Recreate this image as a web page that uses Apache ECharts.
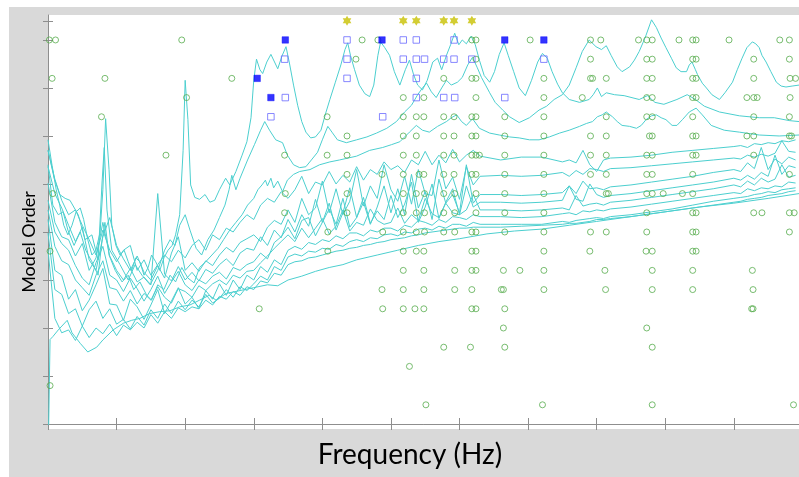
<!DOCTYPE html>
<html><head><meta charset="utf-8">
<script src="https://cdn.jsdelivr.net/npm/echarts@6/dist/echarts.min.js"></script>
<style>
html,body{margin:0;padding:0;background:#fff;overflow:hidden;}
#frame{position:absolute;left:9px;top:7px;width:790px;height:470px;background:#d9d9d9;}
#chart{position:absolute;left:0;top:0;width:799px;height:477px;}
</style></head><body>
<div id="frame"></div><div id="chart"></div>
<script>
// ---------- data ----------
const xTickStep = 10;
const yTicks = [0,5,10,15,20,25,30,35,40,42];

const circleOrders = [40,38,36,34,32,30,28,26,24,22,20,18,16,14,12,10,8,6,4,2];
const circleHz = [
 [0.2,1.1,19.5,45.8,48.1,61.8,62.4,70.3,79.1,80.6,86.1,87.3,88.1,92.0,94.0,94.5,99.3,106.7,108.1],
 [44.9,62.4,79.1,87.3,88.1,94.0,94.5,102.9,108.1],
 [0.6,8.3,26.8,57.7,61.8,62.4,72.3,79.1,79.4,81.4,87.3,88.1,94.0,94.5,102.9,108.2,109.0],
 [20.2,51.8,54.8,62.4,72.3,77.9,87.3,88.1,94.0,94.5,101.9,102.9,103.4,108.2],
 [7.8,40.7,51.8,53.7,54.8,57.7,59.2,61.8,62.4,66.6,72.3,81.4,87.3,88.1,94.0,102.9,108.1],
 [43.6,51.8,53.7,57.7,59.2,61.8,62.4,66.6,72.3,79.1,81.4,87.7,88.1,94.0,94.5,101.9,102.9,108.1,108.4],
 [17.2,34.5,40.7,43.6,51.8,53.7,57.7,59.2,61.8,62.4,62.9,66.6,72.3,79.1,81.4,87.3,88.1,94.0,94.5,102.9],
 [43.6,48.7,51.8,54.1,54.8,57.7,59.2,61.8,62.4,66.6,72.3,79.1,81.4,87.3,88.1,94.0,108.1],
 [0.7,34.6,43.6,51.8,53.7,54.9,57.7,59.3,62.4,66.6,72.3,81.4,81.7,87.3,88.1,89.7,92.5,94.0],
 [34.5,43.6,51.8,53.7,54.9,57.7,59.3,62.4,66.6,72.3,87.3,94.0,94.5,102.9,104.1,108.1,108.8],
 [40.8,48.8,51.8,53.7,54.9,57.7,59.3,61.8,62.4,66.6,72.3,79.1,81.4,87.3,94.0,94.5,108.1],
 [0.3,40.8,51.8,53.7,54.8,61.8,62.4,72.3,79.0,87.2,88.1,94.0,94.5],
 [51.8,54.8,59.3,61.8,62.4,66.4,68.8,72.3,81.2,88.1,94.0,102.7],
 [48.7,51.8,54.8,59.3,61.8,66.1,66.4,72.3,81.3,88.1,94.0,102.8],
 [30.8,48.8,51.8,53.5,54.8,61.8,62.4,66.6,102.6,102.8],
 [66.4,87.3],
 [57.7,61.6,66.6,88.1],
 [52.7],
 [0.3],
 [55.1,72.1,88.1,108.7]
];

const sqOrders = [40,38,36,34,32];
const sqHz = [
 [43.6,51.8,53.7,59.2],
 [34.5,43.6,51.8,53.7,54.9,57.7,59.2,61.8,72.3],
 [43.6,53.7],
 [34.6,53.7,57.7,59.3,66.6],
 [32.5,48.8]
];
const fullOrders = [40,36,34];
const fullHz = [[34.6,48.7,66.6,72.3],[30.5],[32.5]];
const starOrder = 42;
const starHz = [43.6,51.8,53.7,57.7,59.2,61.8];

const psdA = [[0,29.6],[0.6,26.9],[1.2,24.4],[1.7,22.8],[2.3,20.7],[2.9,19.7],[3.5,20.7],[4.1,22.1],[4.7,22.5],[5.2,21.3],[5.8,19.2],[6.4,17.6],[7.0,18.1],[7.6,20.0],[8.0,24.4],[8.4,31.8],[8.9,26.5],[9.3,20.7],[9.9,18.6],[10.5,17.6],[11.1,18.1],[11.7,16.9],[12.2,16.0],[12.8,17.3],[13.4,16.9],[14.0,15.5],[14.6,16.3],[15.1,17.6],[15.7,16.9],[16.3,16.0],[16.9,17.3],[17.5,18.1],[18.1,18.6],[18.6,19.7],[19.2,21.8],[19.7,28.5],[20.0,35.8],[20.4,31.7],[20.8,24.9],[21.4,23.6],[22.1,23.4],[22.9,23.9],[23.6,23.1],[24.3,23.3],[25.0,24.4],[25.9,25.6],[26.5,24.9],[27.4,26.3],[28.3,28.0],[29.0,29.4],[29.6,31.9],[30.0,35.8],[30.4,38.0],[30.9,36.9],[31.3,36.5],[31.9,37.7],[32.5,38.5],[33.1,37.6],[33.5,37.0],[34.1,38.3],[34.7,39.3],[35.2,37.6],[35.8,35.3],[36.4,33.2],[37.0,31.5],[37.6,30.4],[38.3,29.8],[39.0,29.9],[39.8,30.6],[40.5,32.4],[41.1,33.8],[41.9,35.6],[42.7,37.4],[43.3,39.0],[43.7,39.7],[44.1,38.4],[44.7,36.9],[45.4,35.3],[46.2,34.4],[46.9,34.1],[47.5,35.3],[48.1,38.4],[48.5,39.8],[49.1,39.2],[49.8,38.4],[50.5,36.7],[51.3,35.3],[52.1,36.9],[52.7,37.9],[53.3,36.4],[53.9,35.3],[54.6,34.8],[55.3,35.8],[56.1,37.7],[56.8,38.1],[57.4,36.9],[58.1,38.4],[58.7,39.5],[59.3,40.7],[59.9,39.5],[60.4,40.0],[61.0,39.6],[61.7,40.4],[62.3,39.5],[62.9,37.9],[63.6,36.3],[64.4,35.6],[65.1,36.7],[65.8,38.5],[66.5,39.7],[67.1,38.4],[67.9,36.7],[68.7,35.0],[69.6,34.2],[70.5,35.8],[71.4,37.7],[72.1,38.6],[72.8,38.1],[73.5,36.7],[74.3,35.4],[75.0,34.5],[76.0,33.8],[77.5,33.5],[78.9,33.8],[79.5,34.3],[80.1,35.0],[80.7,34.1],[81.4,34.5],[82.6,34.3],[84.0,34.2],[86.2,33.8],[87.4,34.2],[88.5,33.5],[89.8,33.3],[91.7,33.8],[93.2,34.3],[94.4,33.8],[95.7,33.1],[97.9,32.5],[100.8,32.1],[103.7,31.9],[105.9,31.9],[108.1,31.6],[109.5,31.5]];

const psdB = [[0,28.5],[0.9,25.6],[1.7,23.9],[2.5,23.5],[3.2,23.3],[4.4,21.8],[5.4,19.2],[6.4,19.7],[7.3,17.1],[7.9,25.4],[8.2,28.8],[8.6,22.3],[9.3,18.1],[10.5,16.6],[11.7,15.0],[12.7,16.6],[13.7,15.5],[14.9,14.5],[16.0,16.0],[17.0,18.1],[17.8,19.2],[18.5,18.6],[19.2,20.7],[20.0,21.8],[20.7,20.2],[21.6,18.3],[22.4,17.6],[23.3,19.2],[24.2,20.2],[25.0,21.5],[25.8,22.8],[26.4,24.4],[26.8,25.9],[27.4,24.4],[28.0,25.6],[29.1,27.5],[30.1,29.1],[31.0,30.6],[31.6,31.5],[32.3,30.6],[33.2,29.6],[34.2,29.3],[34.9,28.0],[35.8,27.0],[36.7,26.7],[37.6,26.8],[38.4,27.5],[39.3,28.3],[40.0,29.6],[40.8,31.0],[41.4,30.4],[42.2,29.6],[43.5,29.3],[45.0,29.6],[46.5,29.9],[47.9,30.3],[49.4,30.8],[50.8,31.5],[52.0,32.5],[53.0,33.2],[53.9,34.3],[54.6,35.0],[55.2,35.5],[55.9,34.6],[56.6,34.0],[57.4,35.0],[58.1,35.8],[58.8,35.3],[59.7,35.6],[60.4,36.1],[61.2,37.4],[61.9,38.2],[62.6,37.1],[63.2,36.1],[63.8,35.3],[64.4,34.5],[65.2,33.5],[66.3,32.7],[67.3,32.0],[68.7,31.4],[70.2,31.9],[71.6,32.7],[72.7,33.1],[73.8,33.8],[75.0,34.3],[76.0,35.3],[77.0,37.1],[77.9,38.8],[78.9,40.0],[79.9,39.3],[80.7,39.0],[81.4,39.4],[82.1,38.4],[83.0,37.2],[83.7,36.7],[84.8,37.2],[85.5,37.9],[86.2,38.8],[86.8,39.8],[87.2,40.5],[88.0,42.1],[88.7,41.3],[89.4,40.2],[90.1,39.2],[90.9,38.1],[91.6,37.1],[92.3,36.7],[93.1,36.7],[93.5,37.4],[93.9,37.7],[94.4,36.9],[94.7,36.4],[95.4,35.5],[96.0,35.0],[96.8,34.3],[97.9,33.8],[98.7,34.5],[99.8,35.6],[100.5,36.9],[101.2,38.1],[101.9,39.2],[102.7,39.8],[103.2,39.6],[103.7,39.2],[104.1,38.4],[104.7,37.7],[105.4,36.7],[106.2,35.6],[106.9,35.2],[107.6,35.1],[108.5,35.2],[109.5,35.3]];

const psdC = [[0,27.0],[0.7,22.8],[1.5,21.8],[2.2,22.1],[2.9,20.2],[3.8,18.6],[4.7,20.0],[5.5,18.1],[6.4,16.9],[7.3,15.5],[7.9,19.2],[8.3,21.0],[8.9,17.6],[9.8,16.0],[10.8,14.8],[11.7,15.5],[12.5,14.0],[13.4,14.8],[14.4,13.4],[15.1,12.9],[16.0,14.5],[16.9,14.0],[17.8,15.5],[18.6,14.8],[19.5,16.3],[20.4,15.2],[21.3,14.7],[22.1,16.3],[23.0,16.9],[23.9,17.6],[24.8,18.3],[25.6,19.2],[26.5,20.2],[27.4,21.0],[28.3,21.8],[29.1,22.8],[30.0,23.5],[30.6,24.4],[31.2,24.9],[31.7,25.4],[32.0,24.8],[32.5,25.6],[32.9,24.6],[33.5,25.3],[34.2,24.2],[34.9,25.4],[35.8,26.0],[36.7,26.3],[38.2,26.5],[39.6,27.0],[41.1,27.3],[42.5,27.5],[45.0,27.9],[46.9,28.5],[48.8,28.8],[50.1,29.1],[51.3,29.4],[52.7,30.4],[53.7,31.1],[54.6,30.6],[55.6,30.4],[56.8,31.0],[58.1,31.5],[58.8,31.9],[59.6,32.2],[60.3,31.5],[61.0,31.1],[61.9,31.8],[62.9,30.8],[64.4,30.3],[65.8,30.1],[67.3,29.9],[68.7,29.8],[70.2,29.6],[71.6,29.6],[73.1,29.9],[74.6,30.3],[76.0,30.6],[77.5,31.0],[78.5,31.3],[79.4,31.5],[80.1,32.0],[80.8,32.2],[81.4,32.5],[82.3,32.0],[83.0,31.5],[83.7,31.1],[84.8,31.0],[85.8,30.8],[86.5,31.1],[87.2,31.7],[88.0,32.1],[88.7,32.2],[89.4,31.9],[90.1,31.7],[91.0,31.1],[91.7,31.1],[92.5,31.7],[93.5,32.5],[94.5,32.9],[95.4,32.2],[96.7,31.1],[98.6,30.6],[100.8,30.4],[103.7,30.1],[106.6,30.0],[109.5,30.1]];

const binHz = [0,1,2,3,4,5,6,7,8,9,10,11,12,13,14,15,16,17,18,19,20,21,22,23,24,25,26,27,28,29,30,31,32,33,34,35,36,37,38,39,40,41,42,43,44,45,46,47,48,49,50,51,52,53,54,55,56,57,58,59,60,61,62,63,66,69,72,75,76,77,78,79,80,81,82,85,88,91,94,97,100,101,102,103,104,105,106,107,108,109];
const psdD = [28.5,25.5,23.3,21.8,22.3,20.7,19.2,17.6,20.2,18.1,16.9,18.1,18.6,16.0,17.1,15.5,16.6,17.6,16.9,18.1,17.3,18.6,19.2,18.1,19.7,19.2,20.4,20.0,21.0,21.8,21.3,22.8,23.5,23.1,24.2,23.5,
 24.4,25.8,24.0,25.2,24.9,26.3,25.0,25.9,25.2,26.8,25.4,26.5,26.0,27.3,26.5,26.9,26.2,27.5,27.0,28.4,27.0,28.0,27.2,28.6,27.3,28.0,28.5,27.9,
 27.5,27.8,27.8,27.3,27.5,27.2,28.5,27.0,26.3,27.5,27.7,27.8,28.0,28.3,28.5,28.7,28.9,29.0,28.8,29.2,29.1,29.3,29.2,29.5,29.4,29.6];
const psdE = [26.8,24.0,22.5,20.7,19.0,20.5,17.1,16.0,19.5,21.5,18.6,17.2,16.0,17.5,15.8,15.0,16.5,15.2,17.8,19.5,16.0,16.8,15.9,17.0,16.5,17.6,18.4,17.9,18.9,19.3,19.7,19.0,20.5,21.2,20.8,22.3,
 21.0,23.5,21.8,22.5,25.3,22.0,24.5,21.8,23.2,26.5,22.7,24.8,23.5,27.0,24.4,23.2,25.8,22.9,26.5,24.0,23.8,27.5,24.5,25.7,23.4,26.8,24.9,25.8,
 25.9,25.8,25.9,26.2,25.8,26.4,26.0,26.6,26.5,26.3,26.6,26.7,26.9,27.1,27.3,27.5,27.7,27.6,28.0,27.8,28.1,27.9,28.2,29.5,28.4,28.3];
const psdF = [25.1,21.0,19.5,19.2,17.5,18.8,16.0,17.3,21.0,17.5,16.0,15.0,16.2,14.8,15.3,14.5,24.0,15.6,14.9,16.4,15.0,15.8,14.9,16.1,15.7,16.6,17.2,16.5,17.8,18.3,18.1,19.5,18.6,20.2,19.4,21.3,
 20.0,21.8,20.6,23.4,21.0,23.0,20.2,22.0,24.6,21.5,23.1,20.8,22.6,24.8,22.0,24.5,21.8,26.0,22.5,24.2,21.3,25.5,23.0,23.9,22.0,27.0,23.0,23.9,
 23.9,23.8,23.9,24.1,24.8,24.0,25.3,24.5,24.6,24.4,24.7,24.9,25.2,25.5,25.8,26.2,26.5,26.3,27.2,26.6,28.8,26.5,27.6,27.1,27.8,27.5];
const psdG = [23.3,20.0,18.8,18.1,16.5,15.2,14.5,16.8,18.5,15.5,15.0,13.8,15.2,14.1,12.8,14.0,15.4,13.6,14.8,15.9,14.5,13.9,15.0,14.6,15.4,15.8,15.1,16.3,16.0,16.6,16.9,17.8,17.2,18.9,19.5,20.5,
 19.3,21.2,21.5,19.6,21.0,22.4,20.8,23.5,20.5,21.5,23.6,20.9,22.2,21.3,23.8,21.5,22.9,25.2,21.0,22.6,25.0,21.4,23.1,24.5,21.8,24.8,22.6,23.1,
 23.1,23.0,23.1,23.3,24.8,23.4,23.2,25.0,23.9,23.6,23.8,24.0,24.3,24.6,24.9,25.2,25.6,25.4,25.9,25.5,26.2,25.8,28.0,26.0,26.9,26.7];
const psdH = [22.3,18.5,17.0,16.6,15.0,14.2,13.4,15.5,17.0,14.2,14.0,12.8,13.9,12.5,13.6,12.9,14.3,13.2,12.6,14.1,13.8,13.2,14.4,13.9,14.6,15.0,14.5,15.5,15.2,15.9,16.0,16.8,17.5,18.3,19.0,19.7,
 19.0,20.4,19.4,20.4,21.4,19.8,20.6,22.3,20.1,21.0,20.7,22.4,21.2,20.8,21.0,22.5,20.9,21.8,21.2,23.5,21.9,21.5,23.0,22.0,21.8,22.3,23.9,22.3,
 22.3,22.2,22.3,22.5,22.3,23.8,22.7,22.9,23.0,22.8,23.1,23.3,23.6,23.9,24.2,24.5,24.9,24.7,25.3,24.9,25.6,25.2,25.5,27.0,25.7,25.9];
const psdI = [21.3,16.0,15.5,13.0,14.0,11.8,12.9,14.5,16.2,12.5,12.4,10.8,13.0,12.2,10.9,12.4,14.0,11.5,12.8,14.2,12.5,13.2,12.0,13.9,13.0,14.6,13.4,15.0,14.0,15.5,15.0,16.4,15.8,17.1,16.6,18.1,
 18.5,18.2,18.9,18.7,19.2,19.0,19.6,19.3,19.9,19.9,19.6,20.2,20.0,20.4,20.4,20.1,20.7,20.5,21.2,21.0,20.7,21.3,21.0,21.6,21.5,21.3,21.8,21.6,
 21.6,21.5,21.6,21.9,22.0,21.8,22.2,22.1,22.3,22.2,22.4,22.6,22.9,23.2,23.5,23.8,24.1,24.0,24.5,24.3,24.6,24.5,24.8,24.7,25.2,25.1];
const psdJ = [19.9,14.0,13.5,11.5,12.0,10.2,11.9,12.8,11.0,12.0,10.4,10.9,9.9,11.2,10.3,11.9,11.0,12.5,11.5,12.8,11.9,12.9,12.2,13.5,12.6,13.1,14.0,13.2,14.3,13.9,14.6,15.4,15.0,16.4,16.0,17.4,
 17.7,17.5,18.0,17.9,18.3,18.2,18.7,18.5,19.0,19.2,19.0,19.4,19.3,19.7,19.8,19.6,20.0,19.9,20.3,20.4,20.2,20.6,20.4,20.8,20.8,20.6,21.0,20.8,
 20.8,20.8,20.8,21.1,21.0,21.2,21.3,21.4,21.5,21.4,21.6,21.8,22.1,22.4,22.8,23.2,23.5,23.6,23.7,23.9,24.0,24.2,24.1,24.4,24.5,24.6];
const psdK = [18.1,11.0,9.5,9.8,8.7,10.2,9.0,10.0,9.4,10.4,9.2,10.3,9.8,10.6,10.0,11.4,10.5,11.7,11.0,12.1,11.7,12.2,12.0,12.9,12.4,13.3,13.0,13.8,13.4,14.3,14.0,14.9,14.7,15.7,15.5,16.6,
 16.9,17.0,17.3,17.4,17.6,17.8,18.0,18.1,18.3,18.4,18.6,18.7,18.9,19.0,19.2,19.3,19.4,19.6,19.7,19.9,20.0,20.1,20.2,20.3,20.4,20.4,20.5,20.5,
 20.5,20.6,20.7,20.8,20.9,20.9,21.0,21.1,21.3,21.3,21.4,21.6,21.9,22.2,22.5,22.8,23.1,23.2,23.4,23.5,23.6,23.8,23.9,24.0,24.2,24.3];
const psdL = [[0.1,-0.1],[0.3,8.8],[0.7,9.1],[1.5,9.8],[2.8,10.8],[3.5,9.5],[4.7,8.4],[5.8,7.5],[7.1,8.0],[8.0,8.75],[9.5,9.8],[11.0,10.5],[12.2,10.8],[13.4,11.0],[14.8,11.5],[16.3,11.7],[17.8,11.8],[19.2,12.2],[20.7,12.4],[22.1,12.9],[23.5,13.4],[24.5,12.9],[26.0,13.6],[28.0,13.9],[30.0,14.2],[32.0,14.5],[33.5,14.4],[35.0,15.0],[37.0,15.4],[39.0,15.9],[41.0,16.3],[43.0,16.6],[45.0,17.1],[48.0,17.6],[51.0,18.1],[54.0,18.6],[57.0,19.0],[60.0,19.3],[64.0,19.8],[68.0,20.1],[72.0,20.3],[76.0,20.7],[80.0,21.1],[85.0,21.6],[90.0,22.1],[95.0,22.6],[100.0,23.0],[105.0,23.5],[109.5,24.0]];

// ---------- styles ----------
const lineColor = '#4ccfcf';
const greenC = '#58ac4e';
const axisGray = '#8e8e8e';
const starPath = 'path://M0,-1L0.289,-0.5L0.866,-0.5L0.577,0L0.866,0.5L0.289,0.5L0,1L-0.289,0.5L-0.866,0.5L-0.577,0L-0.866,-0.5L-0.289,-0.5Z';

const binned = [psdD,psdE,psdF,psdG,psdH,psdI,psdJ,psdK].map(v => v.map((y,i)=>[binHz[i], y]));
const curves = [psdA,psdB,psdC].concat(binned).concat([psdL]);

const lineSeries = curves.map(d => ({
  type:'line', data:d, symbol:'none', showSymbol:false, silent:true, z:2,
  lineStyle:{color:lineColor, width:1}
}));

const pts = (orders, hz) => orders.flatMap((o,i)=>hz[i].map(f=>[f,o]));

const chart = echarts.init(document.getElementById('chart'), null, {renderer:'canvas'});
const axCommon = {
  type:'value', axisLabel:{show:false}, splitLine:{show:false},
  axisLine:{show:true, lineStyle:{color:axisGray, width:1}},
  axisTick:{show:true, inside:true, length:6, lineStyle:{color:axisGray}}
};
chart.setOption({
  animation:false,
  backgroundColor:'transparent',
  grid:{left:48, top:15, right:-1, bottom:48, show:true, backgroundColor:'#ffffff', borderWidth:0},
  xAxis:[
    Object.assign({}, axCommon, {min:0, max:109.5, interval:xTickStep, position:'bottom'}),
    Object.assign({}, axCommon, {min:0, max:109.5, interval:xTickStep, position:'top'})
  ],
  yAxis:[
    Object.assign({}, axCommon, {min:-0.52, max:42.6, position:'left',
      axisTick:{show:true, inside:true, length:5, lineStyle:{color:axisGray}, customValues:yTicks}}),
    Object.assign({}, axCommon, {min:-0.52, max:42.6, position:'right', axisLine:{show:false},
      axisTick:{show:true, inside:true, length:5, lineStyle:{color:axisGray}, customValues:yTicks}})
  ],
  graphic:[
    {type:'text', x:410, y:455, silent:true,
     style:{text:'Frequency (Hz)', fill:'#000', font:'28px Lato', textAlign:'center', textVerticalAlign:'middle'}},
    {type:'text', x:29, y:242, rotation:Math.PI/2, silent:true,
     style:{text:'Model Order', fill:'#000', font:'18px Lato', textAlign:'center', textVerticalAlign:'middle'}}
  ],
  series: lineSeries.concat([
    {type:'scatter', data:pts(circleOrders, circleHz), symbol:'circle', symbolSize:6, z:5, silent:true,
     itemStyle:{color:'rgba(0,0,0,0)', borderColor:greenC, borderWidth:1}},
    {type:'scatter', data:pts(sqOrders, sqHz), symbol:'rect', symbolSize:6.5, z:6, silent:true,
     itemStyle:{color:'rgba(0,0,0,0)', borderColor:'#6a6aff', borderWidth:1}},
    {type:'scatter', data:pts(fullOrders, fullHz), symbol:'rect', symbolSize:6.5, z:7, silent:true,
     itemStyle:{color:'#0000ff', borderColor:'#0000ff', borderWidth:0.5}},
    {type:'scatter', data:starHz.map(f=>[f,starOrder]), symbol:starPath, symbolSize:10, symbolKeepAspect:true, z:8, silent:true,
     itemStyle:{color:'#c8c000'}}
  ])
});
</script></body></html>
